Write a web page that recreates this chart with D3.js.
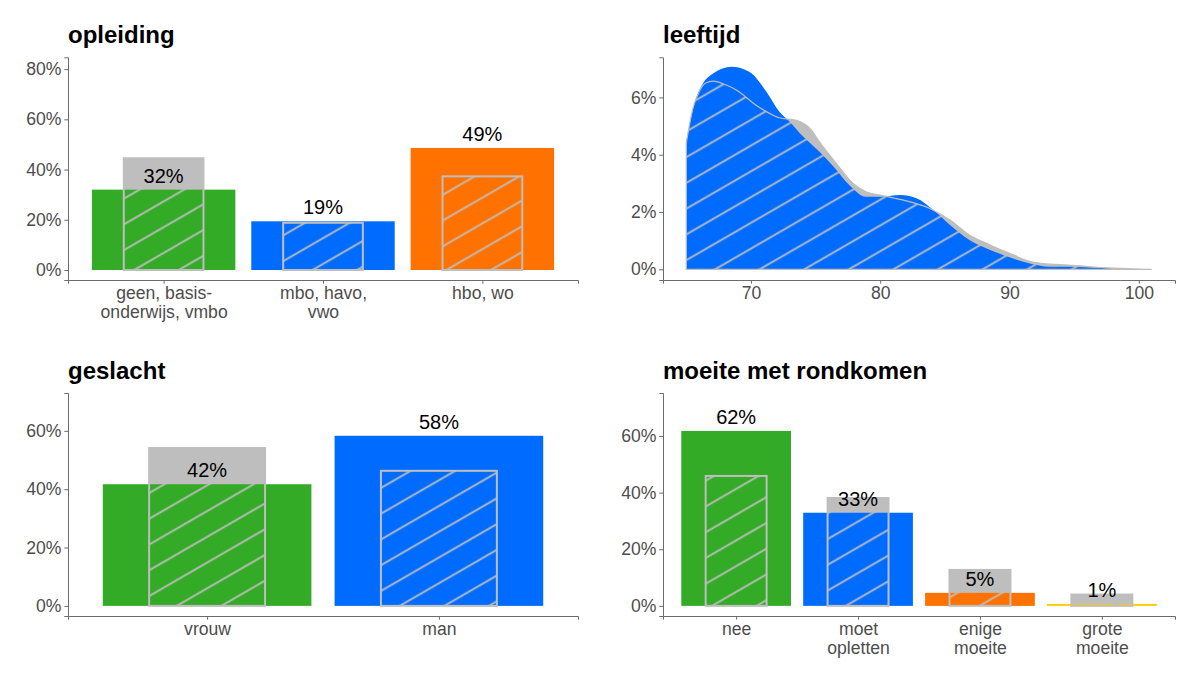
<!DOCTYPE html>
<meta charset="utf-8">
<style>
body { margin: 0; background: #fff; }
text { font-family: "Liberation Sans", Arial, sans-serif; }
.tick text { fill: #4D4D4D; font-size: 17.6px; }
.domain, .tick line { stroke: #6b6b6b; }
.title { font-weight: bold; font-size: 24px; fill: #000; }
.lbl { font-size: 20px; fill: #000; }
</style>
<script src="https://d3js.org/d3.v7.min.js"></script>
<body>
<script>

// colours
var green = "#33AB27", blue = "#006CFF", orange = "#FF7200", yellow = "#FFCC00", grey = "#BEBEBE";

// opleiding
var opleidingCats = ["geen, basis-\nonderwijs, vmbo", "mbo, havo,\nvwo", "hbo, wo"];
var opleidingSample = [0.320, 0.194, 0.486];
var opleidingPop = [0.445, 0.188, 0.373];

// geslacht
var geslachtCats = ["vrouw", "man"];
var geslachtSample = [0.417, 0.583];
var geslachtPop = [0.541, 0.463];

// moeite met rondkomen
var moeiteCats = ["nee", "moet\nopletten", "enige\nmoeite", "grote\nmoeite"];
var moeiteSample = [0.618, 0.329, 0.046, 0.007];
var moeitePop = [0.459, 0.381, 0.127, 0.040];

// leeftijd (density, in %)
var sampleAge = [65.0, 65.6, 66.3, 67.1, 68.5, 69.9, 71.2, 72.2, 73.0, 73.8, 75.3, 76.4, 77.6, 78.9, 80.2, 81.5, 82.8, 84.1, 85.4, 86.9, 88.5, 90.0, 91.5, 93.1, 94.6, 96.2, 98.0, 101.0];
var sampleDens = [4.45, 5.73, 6.49, 6.84, 7.07, 6.89, 6.20, 5.50, 5.15, 4.74, 4.10, 3.58, 2.94, 2.53, 2.53, 2.59, 2.48, 2.07, 1.55, 1.02, 0.67, 0.42, 0.21, 0.09, 0.09, 0.06, 0.03, 0.0];
var popAge = [65.0, 65.5, 66.0, 66.5, 67.1, 68.0, 68.9, 70.4, 72.2, 73.5, 74.6, 75.3, 76.6, 77.9, 78.9, 80.2, 82.0, 83.8, 85.4, 86.9, 88.5, 90.0, 91.5, 93.1, 94.6, 96.2, 98.0, 101.0];
var popDens = [4.40, 5.60, 6.20, 6.50, 6.57, 6.45, 6.25, 5.73, 5.29, 5.20, 4.90, 4.45, 3.70, 3.00, 2.71, 2.57, 2.39, 2.13, 1.72, 1.20, 0.85, 0.56, 0.29, 0.18, 0.15, 0.09, 0.04, 0.0];

var width = 1200, height = 686;

var svg = d3.select("body").append("svg")
    .attr("width", width)
    .attr("height", height);

// stripe pattern
svg.append("defs").append("pattern")
    .attr("id", "hatch")
    .attr("patternUnits", "userSpaceOnUse")
    .attr("width", 30)
    .attr("height", 22.3)
    .attr("patternTransform", "rotate(-30)")
  .append("line")
    .attr("x1", 0).attr("x2", 30)
    .attr("y1", 11).attr("y2", 11)
    .attr("stroke", grey)
    .attr("stroke-width", 1.8);

function styleAxis(g) {
  g.selectAll(".domain").attr("stroke", "#6b6b6b").attr("stroke-width", 1);
  g.selectAll(".tick line").attr("stroke", "#6b6b6b");
}

function multiline(g) {
  g.selectAll(".tick text").each(function(d) {
    var t = d3.select(this), lines = d.split("\n");
    t.text(null);
    lines.forEach(function(l, i) {
      t.append("tspan").attr("x", 0).attr("dy", i == 0 ? "0.71em" : "1.1em").text(l);
    });
    t.attr("dy", null);
  });
}

function barPanel(p) {
  var g = svg.append("g");
  var x = d3.scalePoint().domain(p.cats).range([p.left, p.right]).padding(0.6);
  var y = d3.scaleLinear().domain(p.yDomain).range([p.bottom, p.top]);
  var step = x.step();
  var wBar = step * 0.9, wPop = step * 0.5;

  g.append("text").attr("class", "title")
    .attr("x", p.left).attr("y", p.top - 14).text(p.title);

  // population bar, solid
  g.selectAll(".pop").data(p.pop).enter().append("rect")
    .attr("x", function(d, i) { return x(p.cats[i]) - wPop / 2; })
    .attr("y", function(d) { return y(d); })
    .attr("width", wPop)
    .attr("height", function(d) { return y(0) - y(d); })
    .attr("fill", grey);

  // sample bar
  g.selectAll(".bar").data(p.sample).enter().append("rect")
    .attr("x", function(d, i) { return x(p.cats[i]) - wBar / 2; })
    .attr("y", function(d) { return y(d); })
    .attr("width", wBar)
    .attr("height", function(d) { return y(0) - y(d); })
    .attr("fill", function(d, i) { return p.colors[i]; });

  // population bar, striped outline
  g.selectAll(".popline").data(p.pop).enter().append("rect")
    .attr("x", function(d, i) { return x(p.cats[i]) - wPop / 2; })
    .attr("y", function(d) { return y(d); })
    .attr("width", wPop)
    .attr("height", function(d) { return y(0) - y(d); })
    .attr("fill", "url(#hatch)")
    .attr("stroke", grey)
    .attr("stroke-width", 2);

  g.selectAll(".lbl").data(p.sample).enter().append("text")
    .attr("class", "lbl")
    .attr("text-anchor", "middle")
    .attr("x", function(d, i) { return x(p.cats[i]); })
    .attr("y", function(d) { return y(d) - 7; })
    .text(d3.format(".0%"));

  var ya = g.append("g").attr("transform", "translate(" + p.left + ",0)")
    .call(d3.axisLeft(y).tickValues(p.yTicks).tickFormat(d3.format(".0%"))
      .tickSizeOuter(0).tickSize(3.7).tickPadding(2.9));
  styleAxis(ya);

  var xa = g.append("g").attr("transform", "translate(0," + p.bottom + ")")
    .call(d3.axisBottom(x).tickSizeOuter(0).tickSize(3.7).tickPadding(2.9));
  styleAxis(xa);
  multiline(xa);
}

barPanel({title: "opleiding", cats: opleidingCats, sample: opleidingSample, pop: opleidingPop,
  colors: [green, blue, orange], left: 68, right: 578, top: 57.3, bottom: 280,
  yDomain: [-0.0398, 0.847], yTicks: [0, 0.2, 0.4, 0.6, 0.8]});

barPanel({title: "geslacht", cats: geslachtCats, sample: geslachtSample, pop: geslachtPop,
  colors: [green, blue], left: 68, right: 578, top: 393, bottom: 616,
  yDomain: [-0.0347, 0.7297], yTicks: [0, 0.2, 0.4, 0.6]});

barPanel({title: "moeite met rondkomen", cats: moeiteCats, sample: moeiteSample, pop: moeitePop,
  colors: [green, blue, orange, yellow], left: 663, right: 1175, top: 393, bottom: 616,
  yDomain: [-0.0358, 0.752], yTicks: [0, 0.2, 0.4, 0.6]});

// leeftijd density
(function() {
  var left = 663, right = 1175, top = 57.3, bottom = 280;
  var g = svg.append("g");
  var x = d3.scaleLinear().domain([63.2, 102.8]).range([left, right]);
  var y = d3.scaleLinear().domain([-0.00373, 0.0740]).range([bottom, top]);

  g.append("text").attr("class", "title")
    .attr("x", left).attr("y", top - 14).text("leeftijd");

  var area = d3.area()
    .x(function(d) { return x(d[0]); })
    .y0(y(0))
    .y1(function(d) { return y(d[1] / 100); })
    .curve(d3.curveMonotoneX);

  var pop = popAge.map(function(a, i) { return [a, popDens[i]]; });
  var sample = sampleAge.map(function(a, i) { return [a, sampleDens[i]]; });

  g.append("path").attr("d", area(pop) + "Z").attr("fill", grey);
  g.append("path").attr("d", area(sample) + "Z").attr("fill", blue);
  g.append("path").attr("d", area(pop) + "Z")
    .attr("fill", "url(#hatch)")
    .attr("stroke", grey)
    .attr("stroke-width", 1.2);

  var ya = g.append("g").attr("transform", "translate(" + left + ",0)")
    .call(d3.axisLeft(y).tickValues([0, 0.02, 0.04, 0.06]).tickFormat(d3.format(".0%"))
      .tickSizeOuter(0).tickSize(3.7).tickPadding(2.9));
  styleAxis(ya);

  var xa = g.append("g").attr("transform", "translate(0," + bottom + ")")
    .call(d3.axisBottom(x).tickValues([70, 80, 90, 100])
      .tickSizeOuter(0).tickSize(3.7).tickPadding(2.9));
  styleAxis(xa);
})();

</script>
</body>
